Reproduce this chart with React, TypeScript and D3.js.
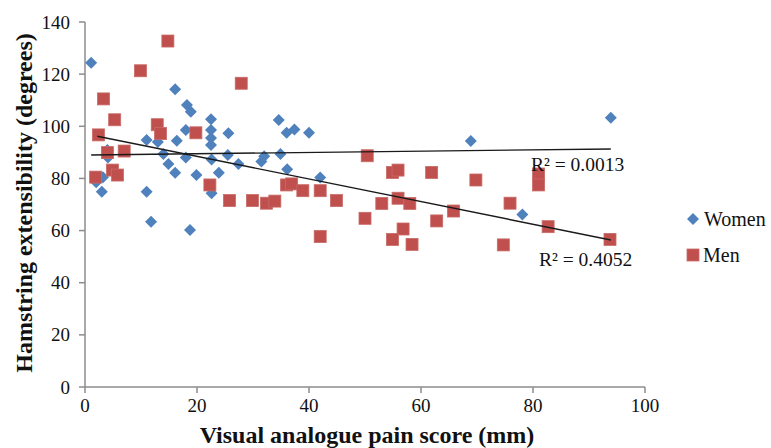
import React from 'react';
import * as d3 from 'd3';

// pain score (mm) vs hamstring extensibility (degrees)
const womenX = [1.1, 16.1, 18.2, 18.9, 22.5, 18.0, 22.5, 25.6, 11.0, 13.0, 16.4, 22.5, 22.5, 4.0, 14.0, 25.5, 31.5, 32.0, 27.4, 14.9, 18.0, 22.6, 16.1, 19.9, 23.9, 3.2, 4.1, 3.0, 11.0, 22.6, 11.8, 18.75, 34.6, 36.0, 37.4, 40.0, 68.9, 34.9, 36.1, 42.0, 93.9, 78.1, 2.0];
const womenY = [124.4, 114.2, 108.2, 105.6, 102.7, 98.6, 98.6, 97.3, 94.7, 94.0, 94.5, 95.5, 92.8, 90.9, 89.4, 89.0, 86.5, 88.5, 85.5, 85.5, 88.0, 87.3, 82.2, 81.3, 82.2, 80.5, 88.0, 74.9, 74.9, 74.3, 63.4, 60.2, 102.4, 97.5, 98.8, 97.5, 94.4, 89.4, 83.5, 80.4, 103.3, 66.2, 78.5];

const menX = [14.8, 9.9, 27.9, 3.3, 5.3, 12.9, 13.5, 2.4, 19.8, 4.0, 7.0, 4.9, 5.8, 1.9, 22.3, 25.8, 29.9, 32.4, 33.9, 50.4, 54.9, 55.9, 61.9, 69.8, 36.0, 36.9, 38.9, 42.0, 44.9, 53.0, 55.9, 58.0, 65.8, 50.0, 62.8, 42.0, 56.8, 54.9, 58.4, 81.0, 81.0, 75.9, 82.7, 93.75, 74.7];
const menY = [132.7, 121.3, 116.5, 110.5, 102.5, 100.6, 97.2, 96.7, 97.5, 89.9, 90.5, 83.2, 81.3, 80.5, 77.5, 71.5, 71.5, 70.5, 71.3, 88.7, 82.3, 83.2, 82.3, 79.4, 77.5, 77.9, 75.3, 75.3, 71.5, 70.4, 72.4, 70.4, 67.5, 64.7, 63.7, 57.7, 60.6, 56.6, 54.7, 81.7, 77.5, 70.5, 61.5, 56.6, 54.5];

// linear trendline end points as drawn
const womenTrend: [number, number][] = [[1.1, 89.0], [93.9, 91.3]];
const menTrend: [number, number][] = [[2.2, 96.2], [93.9, 56.4]];
const womenR2 = 'R² = 0.0013';
const menR2 = 'R² = 0.4052';

const xTicks = [0, 20, 40, 60, 80, 100];
const yTicks = [0, 20, 40, 60, 80, 100, 120, 140];

const BLUE = '#4F81BD';
const RED = '#C0504D';
const FONT = '"Liberation Serif", "Times New Roman", serif';

const diamondType = {
  draw(ctx: any, size: number) {
    const r = Math.sqrt(size / 2);
    ctx.moveTo(0, -r);
    ctx.lineTo(r, 0);
    ctx.lineTo(0, r);
    ctx.lineTo(-r, 0);
    ctx.closePath();
  },
};

export default function App() {
  const x = d3.scaleLinear().domain([0, 100]).range([85, 645]);
  const y = d3.scaleLinear().domain([0, 140]).range([387, 22]);
  const diamond = d3.symbol(diamondType as any, 72)()!;
  const line = d3.line<[number, number]>().x(d => x(d[0])).y(d => y(d[1]));
  const sq = 12;

  return (
    <svg width={771} height={448} style={{ position: 'absolute', left: 0, top: 0, background: '#fff' }} fontFamily={FONT}>
      {/* axes */}
      <line x1={x(0)} x2={x(0)} y1={y(140)} y2={y(0)} stroke="#8c8c8c" strokeWidth={1.5} />
      <line x1={x(0)} x2={x(100)} y1={y(0)} y2={y(0)} stroke="#8c8c8c" strokeWidth={1.5} />
      {yTicks.map(t => (
        <g key={'y' + t}>
          <line x1={x(0) - 6} x2={x(0)} y1={y(t)} y2={y(t)} stroke="#8c8c8c" strokeWidth={1.5} />
          <text x={70} y={y(t) + 6.5} textAnchor="end" fontSize={19} fill="#111">{t}</text>
        </g>
      ))}
      {xTicks.map(t => (
        <g key={'x' + t}>
          <line x1={x(t)} x2={x(t)} y1={y(0)} y2={y(0) + 6} stroke="#8c8c8c" strokeWidth={1.5} />
          <text x={x(t)} y={412} textAnchor="middle" fontSize={19} fill="#111">{t}</text>
        </g>
      ))}

      {/* series */}
      {womenX.map((v, i) => (
        <path key={'w' + i} d={diamond} transform={`translate(${x(v)},${y(womenY[i])})`} fill={BLUE} />
      ))}
      {menX.map((v, i) => (
        <rect key={'m' + i} x={x(v) - sq / 2} y={y(menY[i]) - sq / 2} width={sq} height={sq}
          fill={RED} stroke="#c96a67" strokeWidth={0.8} />
      ))}

      {/* trendlines */}
      <path d={line(womenTrend)!} stroke="#1a1a1a" strokeWidth={1.4} fill="none" />
      <path d={line(menTrend)!} stroke="#1a1a1a" strokeWidth={1.4} fill="none" />
      <text x={531} y={171} fontSize={19.5} fill="#111">{womenR2}</text>
      <text x={539} y={266} fontSize={19.5} fill="#111">{menR2}</text>

      {/* titles */}
      <text x={367} y={443} textAnchor="middle" fontSize={24} fontWeight="bold" fill="#111">
        Visual analogue pain score (mm)
      </text>
      <text transform="translate(32,203) rotate(-90)" textAnchor="middle" fontSize={24} fontWeight="bold" fill="#111">
        Hamstring extensibility (degrees)
      </text>

      {/* legend */}
      <path d={diamond} transform="translate(693,219)" fill={BLUE} />
      <text x={704} y={226} fontSize={20} fill="#111">Women</text>
      <rect x={687} y={249} width={12} height={12} fill={RED} stroke="#c96a67" strokeWidth={0.8} />
      <text x={703} y={262} fontSize={20} fill="#111">Men</text>
    </svg>
  );
}
